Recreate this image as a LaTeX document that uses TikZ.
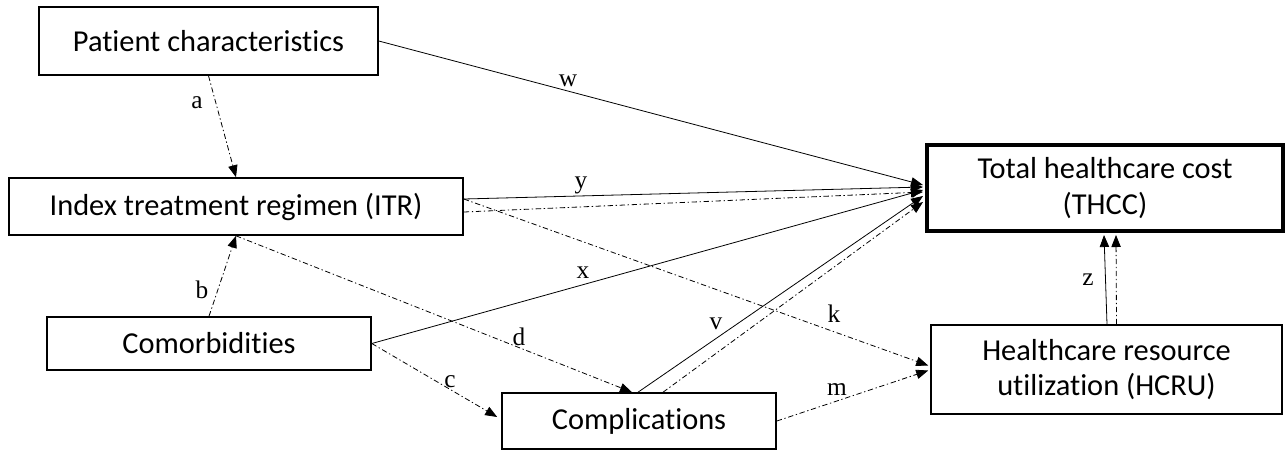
\documentclass[tikz,border=0pt]{standalone}
\usepackage{fontspec}
\setmainfont{Liberation Serif}
\newfontfamily\boxfont[Ligatures={NoCommon}]{Carlito}
\usetikzlibrary{arrows.meta,calc}
\tikzset{
  box/.style={draw, line width=1.2pt, inner sep=0pt, align=center,
    font=\boxfont\fontsize{22.8}{26.5}\selectfont},
  thickbox/.style={box, line width=3pt},
  solidarr/.style={line width=0.6pt, -{Triangle[length=9pt,width=7pt]}},
  dasharr/.style={line width=0.6pt, dash pattern=on 4pt off 2pt on 1pt off 2pt,
    -{Triangle[length=9pt,width=7pt]}},
  lbl/.style={font=\fontsize{19}{22}\selectfont, inner sep=0pt}
}
\begin{document}
\begin{tikzpicture}[x=0.75pt, y=-0.75pt]
\useasboundingbox (0,0) rectangle (1288,451);
% boxes
\node[box, minimum width=254.25pt, minimum height=51pt] (pc) at (208.5,41) {Patient characteristics};
\node[box, minimum width=340.5pt, minimum height=42.75pt] (itr) at (236,206.5) {Index treatment regimen (ITR)};
\node[box, minimum width=243pt, minimum height=39.75pt] (com) at (209,343.5) {Comorbidities};
\node[box, minimum width=205.5pt, minimum height=42pt] (cpl) at (639,421) {Complications};
\node[thickbox, minimum width=267pt, minimum height=64.5pt] (thcc) at (1105,188) {Total healthcare cost\\(THCC)};
\node[box, minimum width=263.25pt, minimum height=66.75pt] (hcru) at (1106.5,369.5) {Healthcare resource\\utilization (HCRU)};
% connectors
\draw[dasharr] (pc.south) -- (itr.north);
\draw[dasharr] (com.north) -- (itr.south);
\draw[solidarr] (pc.east) -- ($(thcc.west)+(-2,-3)$);
\draw[solidarr] ($(itr.east)+(0,-7.5)$) -- ($(thcc.west)+(-2,-1)$);
\draw[dasharr] ($(itr.east)+(0,5.5)$) -- ($(thcc.west)+(-2,4)$);
\draw[dasharr] ($(itr.east)+(0,-7.5)$) -- ($(hcru.west)+(-2,-4)$);
\draw[solidarr] (com.east) -- ($(thcc.west)+(-2,2)$);
\draw[dasharr] (itr.south) -- ($(cpl.north)+(-7,0)$);
\draw[dasharr] (com.east) -- ($(cpl.west)+(-4,-4)$);
\draw[solidarr] ($(cpl.north)+(-1,0)$) -- ($(thcc.west)+(-2,8)$);
\draw[dasharr] ($(cpl.north)+(24,0)$) -- ($(thcc.west)+(-2,14)$);
\draw[dasharr] (cpl.east) -- ($(hcru.west)+(-2,1)$);
\draw[solidarr] ($(hcru.north)+(0.5,0)$) -- ($(thcc.south)+(-1,2)$);
\draw[dasharr] ($(hcru.north)+(10,0)$) -- ($(thcc.south)+(11,2)$);
% labels
\node[lbl] (la) at (197,103) {a};
\node[lbl] (lb) at (202,290) {b};
\node[lbl] (lw) at (568,81) {w};
\node[lbl] (ly) at (581,185) {y};
\node[lbl] (lx) at (583,273) {x};
\node[lbl] (ld) at (519,337) {d};
\node[lbl] (lv) at (716,324) {v};
\node[lbl] (lk) at (834,314) {k};
\node[lbl] (lm) at (837,390) {m};
\node[lbl] (lc) at (450,382) {c};
\node[lbl] (lz) at (1088,280) {z};
\end{tikzpicture}
\end{document}
